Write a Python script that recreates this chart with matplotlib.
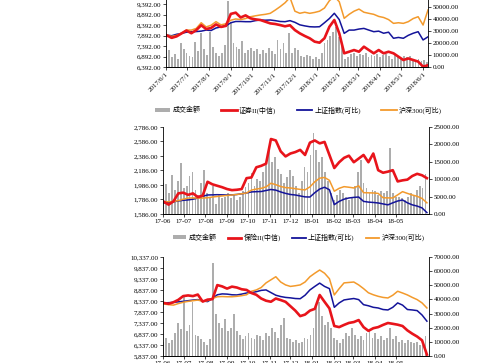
import matplotlib
matplotlib.use('Agg')
import matplotlib.pyplot as plt
import matplotlib.dates as mdates
from matplotlib.ticker import FuncFormatter, FixedLocator
from matplotlib.patches import Patch
from matplotlib.lines import Line2D
import numpy as np
import pandas as pd

plt.rcParams['font.family'] = ['Liberation Serif', 'Noto Sans CJK SC']
plt.rcParams['font.size'] = 5

# ---- legend texts
labels_top = ['成交金额', '证券II(中信)', '上证指数(可比)', '沪深300(可比)']
labels_mid = ['成交金额', '保险II(中信)', '上证指数(可比)', '沪深300(可比)']

# ---- panel 1 (weekly index values, daily-ish turnover)
p1_red = [7900, 7780, 7850, 7990, 8130, 8000, 8150, 8380, 8200, 8250, 8420, 8300, 8350, 8920, 8980, 8750, 8850,
          8710, 8660, 8630, 8550, 8470, 8440, 8390, 8330, 8380, 8150, 7994, 7870, 7760, 7600, 7550, 7760,
          8310, 8630, 7994, 7044, 7120, 7200, 7120, 7360, 7200, 7044, 7200, 7044, 7120, 7044, 6885, 6725,
          6800, 6725, 6650, 6408, 6480]
p1_blue = [7915, 7880, 7950, 7990, 8050, 8070, 8080, 8100, 8150, 8130, 8250, 8300, 8350, 8500, 8560, 8560, 8550,
           8550, 8600, 8630, 8620, 8630, 8600, 8560, 8550, 8600, 8520, 8400, 8350, 8310, 8300, 8310, 8500,
           8700, 8950, 8650, 7994, 8150, 8150, 8200, 8230, 8150, 8073, 8100, 8000, 8050, 7760, 7800, 7760,
           7900, 8000, 8073, 7680, 7830]
p1_orange = [7915, 7850, 7900, 8000, 8150, 8150, 8230, 8500, 8300, 8380, 8550, 8400, 8450, 8620, 8680, 8650, 8700,
             8786, 8830, 8870, 8900, 8948, 9100, 9265, 9450, 9700, 9050, 8950, 9000, 8948, 8990, 9050, 9200,
             9550, 9750, 9500, 8710, 8900, 9050, 9150, 9000, 8948, 8900, 8800, 8750, 8650, 8470, 8500, 8470,
             8550, 8700, 8786, 8390, 9108]
p1_bars = [9000, 14000, 8000, 11000, 7000, 20000, 15000, 12000, 9000, 8000,
           21000, 13000, 28000, 15000, 10000, 29000, 17000, 12000, 9000, 12000,
           18000, 55000, 37000, 20000, 17000, 15000, 22000, 12000, 14000, 16000,
           13000, 15000, 11000, 14000, 12000, 16000, 13000, 11000, 22500, 15000,
           20000, 12000, 28000, 12000, 16000, 14000, 9000, 8000, 10000, 9000,
           7000, 8500, 7000, 12000, 20000, 22500, 26000, 29000, 33000, 25000,
           18000, 7000, 8000, 11000, 12000, 9000, 11000, 10000, 12000, 8000,
           10000, 9000, 11000, 8000, 10000, 11000, 9000, 7000, 10000, 8000,
           7000, 9000, 8000, 9500, 7000, 6000, 7000, 5000, 6000, 4000]

# ---- panel 2
p2_red = [1756, 1715, 1760, 1870, 1880, 1850, 1870, 1820, 1840, 2030, 1995, 1975, 1955, 1930, 1915, 1920, 1930,
          2080, 2090, 2230, 2250, 2280, 2620, 2600, 2450, 2380, 2420, 2440, 2470, 2400, 2570, 2600, 2560, 2580,
          2400, 2220, 2300, 2360, 2390, 2300, 2350, 2400, 2300, 2420, 2190, 2155, 2170, 2190, 2035, 2050, 2060,
          2110, 2140, 2120, 2080]
p2_blue = [1738, 1745, 1755, 1765, 1775, 1780, 1790, 1805, 1830, 1848, 1850, 1852, 1850, 1848, 1850, 1855, 1865,
           1876, 1890, 1894, 1896, 1910, 1924, 1915, 1890, 1870, 1855, 1848, 1835, 1822, 1820, 1880, 1930, 1955,
           1920, 1715, 1760, 1790, 1807, 1815, 1820, 1760, 1750, 1745, 1738, 1725, 1712, 1740, 1765, 1779, 1740,
           1712, 1695, 1670, 1605]
p2_orange = [1756, 1755, 1758, 1770, 1790, 1805, 1808, 1805, 1806, 1810, 1820, 1828, 1835, 1842, 1848, 1855, 1865,
             1876, 1915, 1930, 1940, 1960, 2010, 1990, 1965, 1950, 1945, 1935, 1925, 1918, 1960, 2030, 2080, 2090,
             2050, 1900, 1940, 1963, 1955, 1945, 1975, 1880, 1878, 1876, 1870, 1810, 1808, 1807, 1850, 1894, 1870,
             1848, 1830, 1800, 1740]
p2_bars = [9000, 8500, 6000, 11200, 7000, 9500, 14600, 7500, 8000, 11000,
           12000, 7000, 5500, 9000, 12600, 6000, 5000, 8000, 3000, 5500,
           4500, 5000, 6000, 4500, 5500, 4000, 5000, 6500, 7700, 9000,
           11800, 8000, 10000, 9500, 12000, 14000, 18400, 15000, 16500, 13000,
           11500, 9000, 10500, 12500, 11000, 8000, 6000, 9500, 13500, 12000,
           17000, 23200, 18500, 15000, 16500, 12000, 9500, 6000, 4000, 5500,
           7000, 6000, 5000, 4000, 5000, 8000, 12000, 15500, 9000, 7500,
           6000, 7000, 6500, 5500, 6500, 6000, 6500, 19000, 6000, 4800,
           5000, 4500, 4000, 5000, 6000, 5500, 7000, 8000, 7500, 11500]

# ---- panel 3
p3_red = [8249, 8210, 8280, 8390, 8560, 8590, 8560, 8630, 8310, 8400, 8420, 9060, 9000, 8900, 8990, 8950, 8870,
          8840, 8700, 8620, 8450, 8350, 8303, 8450, 8380, 8300, 8100, 7900, 7650, 7720, 7900, 7980, 8610, 8300,
          8000, 7200, 7150, 7250, 7340, 7380, 7470, 7150, 6980, 7100, 7150, 7250, 7337, 7300, 7260, 7200, 7000,
          6850, 6720, 6550, 5900]
p3_blue = [8249, 8260, 8275, 8300, 8320, 8350, 8380, 8400, 8340, 8310, 8450, 8620, 8660, 8650, 8620, 8612, 8650,
           8700, 8720, 8760, 8820, 8840, 8720, 8600, 8540, 8500, 8480, 8450, 8440, 8600, 8840, 9000, 9150, 9000,
           8900, 8050, 8250, 8385, 8420, 8450, 8400, 8170, 8120, 8050, 8020, 7950, 7930, 8050, 8250, 8150, 7950,
           7930, 7900, 7700, 7420]
p3_orange = [8200, 8170, 8150, 8220, 8280, 8320, 8350, 8380, 8320, 8350, 8450, 8530, 8540, 8530, 8530, 8550, 8580,
             8620, 8780, 8840, 8950, 9160, 9300, 9440, 9200, 9068, 9000, 9030, 9068, 9200, 9440, 9600, 9745, 9600,
             9350, 8612, 8900, 9160, 9180, 9200, 9068, 8900, 8710, 8620, 8550, 8500, 8475, 8600, 8780, 8700, 8612,
             8500, 8400, 8250, 8020]
p3_bars = [10000, 13000, 9000, 11000, 16000, 23000, 19000, 42000, 18000, 22000,
           38000, 15000, 14000, 12000, 10000, 8000, 12000, 66000, 30000, 23000,
           20000, 26000, 18000, 20000, 30000, 18000, 15000, 12000, 14000, 16000,
           13000, 12000, 15000, 14000, 11000, 16000, 14000, 20000, 17000, 13000,
           22000, 27000, 13000, 12000, 10000, 11000, 9000, 10000, 13000, 12000,
           15000, 20000, 37000, 38000, 28000, 22000, 24000, 20000, 13000, 11000,
           9000, 12000, 16000, 14000, 20000, 15000, 12000, 14000, 11000, 16000,
           18000, 13000, 16000, 12000, 14000, 11000, 13000, 20000, 12000, 14000,
           10000, 11000, 9000, 11000, 10000, 9000, 10000, 8000, 8000, 14000]

RED = '#E8141B'
BLUE = '#14149A'
ORANGE = '#F39A2C'
GRAY = '#ADADAD'


def draw_panel(fig, rect, red, blue, orange, bars, bar_end, xend,
               lmin, lmax, lstep, rmax, rstep, rtop, slash_dates):
    ax = fig.add_axes(rect)
    ax2 = ax.twinx()
    line_dates = pd.date_range('2017-06-02', periods=len(red), freq='7D')
    bar_dates = pd.date_range('2017-06-01', bar_end, periods=len(bars))
    ax2.bar(bar_dates, bars, width=2.6, color=GRAY, linewidth=0)
    ax.plot(line_dates, blue, color=BLUE, lw=1.1)
    ax.plot(line_dates, orange, color=ORANGE, lw=1.1)
    ax.plot(line_dates, red, color=RED, lw=1.9)
    ax.set_zorder(ax2.get_zorder() + 1)
    ax.patch.set_visible(False)

    ax.set_xlim(pd.Timestamp('2017-06-01'), pd.Timestamp(xend))
    ax.set_ylim(lmin, lmax)
    ax.set_yticks(np.arange(lmin, lmax + 1, lstep))
    ax.yaxis.set_major_formatter(FuncFormatter(lambda v, p: f'{v:,.2f}'))
    ax2.set_ylim(0, rtop)
    ax2.set_yticks(np.arange(0, rmax + 1, rstep))
    ax2.yaxis.set_major_formatter(FuncFormatter(lambda v, p: f'{v:.2f}'))

    months = pd.date_range('2017-06-01', '2018-06-01' if slash_dates else '2018-05-01', freq='MS')
    ax.xaxis.set_major_locator(FixedLocator(mdates.date2num(months)))
    if slash_dates:
        ax.xaxis.set_major_formatter(FuncFormatter(
            lambda v, p: '{0.year}/{0.month}/{0.day}'.format(mdates.num2date(v))))
        for t in ax.get_xticklabels():
            t.set_rotation(45)
            t.set_ha('right')
            t.set_va('top')
            t.set_rotation_mode('anchor')
    else:
        ax.xaxis.set_major_formatter(mdates.DateFormatter('%y-%m'))

    for a in (ax, ax2):
        a.spines['top'].set_visible(False)
        for s in ('left', 'right', 'bottom'):
            a.spines[s].set_linewidth(0.6)
            a.spines[s].set_color('black')
        a.tick_params(direction='out', length=2, width=0.5, pad=1.5, labelsize=5)
    ax.spines['right'].set_visible(False)
    ax2.spines['left'].set_visible(False)
    return ax


fig = plt.figure(figsize=(5.0, 3.63), dpi=100)

draw_panel(fig, [0.332, 0.8154, 0.524, 0.2025], p1_red, p1_blue, p1_orange, p1_bars,
           '2018-06-07', '2018-06-08', 6392, 9892, 500, 50000, 10000, 61250, True)
draw_panel(fig, [0.326, 0.4105, 0.532, 0.2397], p2_red, p2_blue, p2_orange, p2_bars,
           '2018-06-13', '2018-06-18', 1586, 2786, 200, 25000, 5000, 25000, False)
draw_panel(fig, [0.326, 0.0193, 0.532, 0.2727], p3_red, p3_blue, p3_orange, p3_bars,
           '2018-06-13', '2018-06-18', 5837, 10337, 500, 70000, 10000, 70000, False)


def handles():
    return [Patch(facecolor=GRAY, edgecolor='none'),
            Line2D([], [], color=RED, lw=2),
            Line2D([], [], color=BLUE, lw=1.3),
            Line2D([], [], color=ORANGE, lw=1.3)]


fig.legend(handles(), labels_top, loc='center', bbox_to_anchor=(0.597, 0.697), ncol=4,
           frameon=False, fontsize=5, handlelength=2.2, handleheight=0.5,
           handletextpad=0.3, columnspacing=3.0)
fig.legend(handles(), labels_mid, loc='center', bbox_to_anchor=(0.597, 0.346), ncol=4,
           frameon=False, fontsize=5, handlelength=2.0, handleheight=0.5,
           handletextpad=0.3, columnspacing=1.6)

fig.savefig('out.png', dpi=100)
